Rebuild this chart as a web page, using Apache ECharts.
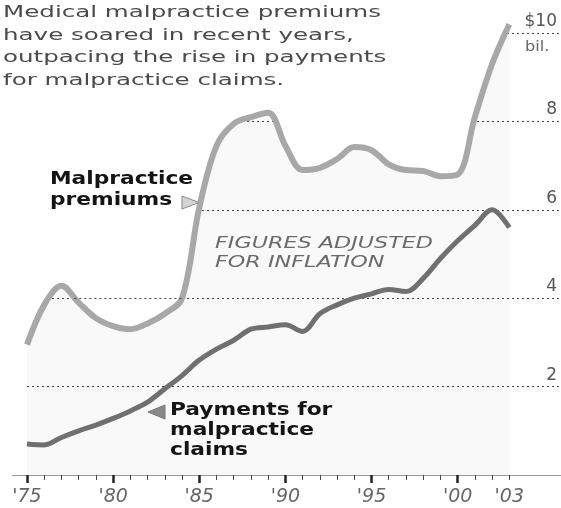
<!DOCTYPE html>
<html><head><meta charset="utf-8">
<script src="https://cdn.jsdelivr.net/npm/echarts@6/dist/echarts.min.js"></script>
<style>html,body{margin:0;padding:0;background:#fff}#c{width:561px;height:508px}</style>
</head><body><div id="c"></div>
<script>
const years = [1975,1976,1977,1978,1979,1980,1981,1982,1983,1984,1985,1986,1987,1988,1989,1990,1991,1992,1993,1994,1995,1996,1997,1998,1999,2000,2001,2002,2003];
const premiums = [2.95,3.85,4.28,3.9,3.55,3.37,3.3,3.43,3.65,4.0,6.05,7.45,7.95,8.1,8.2,7.45,6.9,6.95,7.15,7.42,7.35,7.03,6.9,6.88,6.76,6.8,8.1,9.3,10.2];
const payments = [0.7,0.68,0.85,1.0,1.13,1.28,1.45,1.65,1.95,2.25,2.6,2.85,3.05,3.3,3.35,3.4,3.25,3.65,3.85,4.0,4.1,4.2,4.15,4.45,4.9,5.3,5.65,6.0,5.6];
const majorTickYears = [1975,1980,1985,1990,1995,2000];
const xLabelYears = [1975,1980,1985,1990,1995,2000,2003];
const yTickValues = [0,2,4,6,8,10];
const yLabelValues = [2,4,6,8,10];
const titleLines = ['Medical malpractice premiums','have soared in recent years,','outpacing the rise in payments','for malpractice claims.'];
const premiumsLabel = ['Malpractice','premiums'];
const paymentsLabel = ['Payments for','malpractice','claims'];
const noteLabel = ['FIGURES ADJUSTED','FOR INFLATION'];

const ctx = document.createElement('canvas').getContext('2d');
function measure(t, font){ ctx.font = font; return ctx.measureText(t).width; }

const titleFont = '16px "DejaVu Sans"';
const titleScale = 378 / measure(titleLines[0], titleFont);
const boldFont = 'bold 17px "DejaVu Sans"';
const boldScale = 143 / measure('Malpractice', boldFont);
const noteFont = 'italic 15px "DejaVu Sans"';
const noteScale = 218 / measure(noteLabel[0], noteFont);

function txt(text, x, y, font, sx, fill){
  return {type:'text', x:x, y:y, scaleX:sx, z:100,
    style:{text:text, font:font, fill:fill, textAlign:'left', align:'left', textVerticalAlign:'middle', verticalAlign:'middle'}};
}
const graphics = [];
titleLines.forEach((t,i)=>graphics.push(txt(t, 3, 13 + i*22.5, titleFont, titleScale, '#4a4a4a')));
premiumsLabel.forEach((t,i)=>graphics.push(txt(t, 50, 180 + i*21, boldFont, boldScale, '#141414')));
paymentsLabel.forEach((t,i)=>graphics.push(txt(t, 170, 411 + i*20, boldFont, boldScale, '#141414')));
noteLabel.forEach((t,i)=>graphics.push(txt(t, 215, 244 + i*19, noteFont, noteScale, '#6a6a6a')));
graphics.push(txt('bil.', 525, 47, '14px "DejaVu Sans"', 1.15, '#666'));
graphics.push({type:'polygon', z:100, shape:{points:[[182,196],[199,202.5],[182,209]]}, style:{fill:'#d4d4d4', stroke:'#8a8a8a', lineWidth:1}});
graphics.push({type:'polygon', z:100, shape:{points:[[148,412],[165,405],[165,419]]}, style:{fill:'#8a8a8a', stroke:'#777', lineWidth:1}});
graphics.push({type:'line', z:0, shape:{x1:12, y1:475.5, x2:27, y2:475.5}, style:{stroke:'#9a9a9a', lineWidth:1}});

const pairs = arr => years.map((y,i)=>[y, arr[i]]);
const gridStyle = {color:'#444', width:1, type:[2,3]};

const chart = echarts.init(document.getElementById('c'));
chart.setOption({
  animation:false,
  backgroundColor:'#fff',
  grid:{left:27, right:0, top:11, bottom:33, containLabel:false},
  xAxis:[{
    type:'value', min:1975, max:2006, position:'bottom',
    axisLine:{show:true, lineStyle:{color:'#9a9a9a', width:1}},
    axisTick:{show:true, customValues:years, length:5, lineStyle:{color:'#444', width:1}},
    axisLabel:{show:true, customValues:xLabelYears, formatter:v=>"'" + String(v).slice(2),
      fontStyle:'italic', fontSize:19, fontFamily:'DejaVu Sans', color:'#666', margin:13},
    splitLine:{show:false}
  },{
    type:'value', min:1975, max:2006, position:'bottom',
    axisLine:{show:false},
    axisTick:{show:true, customValues:majorTickYears, length:8, lineStyle:{color:'#222', width:2.5}},
    axisLabel:{show:false},
    splitLine:{show:false}
  }],
  yAxis:{
    type:'value', min:0, max:10.5, position:'right',
    axisLine:{show:false},
    axisTick:{show:false, customValues:yTickValues},
    axisLabel:{show:true, inside:true, customValues:yLabelValues, formatter:v=> v===10 ? '$10' : String(v),
      fontSize:17, fontFamily:'DejaVu Sans', color:'#555', margin:4, verticalAlign:'bottom', padding:[0,0,3,0]},
    splitLine:{show:true, lineStyle:gridStyle}
  },
  series:[
    {type:'line', name:'fill', xAxisIndex:0, data:pairs(premiums), smooth:0.35, symbol:'none', silent:true,
      lineStyle:{width:0}, areaStyle:{color:'rgba(0,0,0,0.03)', origin:'start'}, z:1},
    {type:'line', name:'Malpractice premiums', xAxisIndex:0, data:pairs(premiums), smooth:0.35, symbol:'none',
      lineStyle:{color:'#a8a8a8', width:6}, areaStyle:{color:'#fff', opacity:1, origin:'end'}, z:3},
    {type:'line', name:'Payments for malpractice claims', xAxisIndex:0, data:pairs(payments), smooth:0.35, symbol:'none',
      lineStyle:{color:'#707070', width:5}, z:4,
      markLine:{silent:true, symbol:'none', label:{show:false}, lineStyle:gridStyle,
        data:[[{coord:[1977.75,4]},{coord:[1984.05,4]}]]}}
  ],
  graphic:graphics
});
</script>
</body></html>
